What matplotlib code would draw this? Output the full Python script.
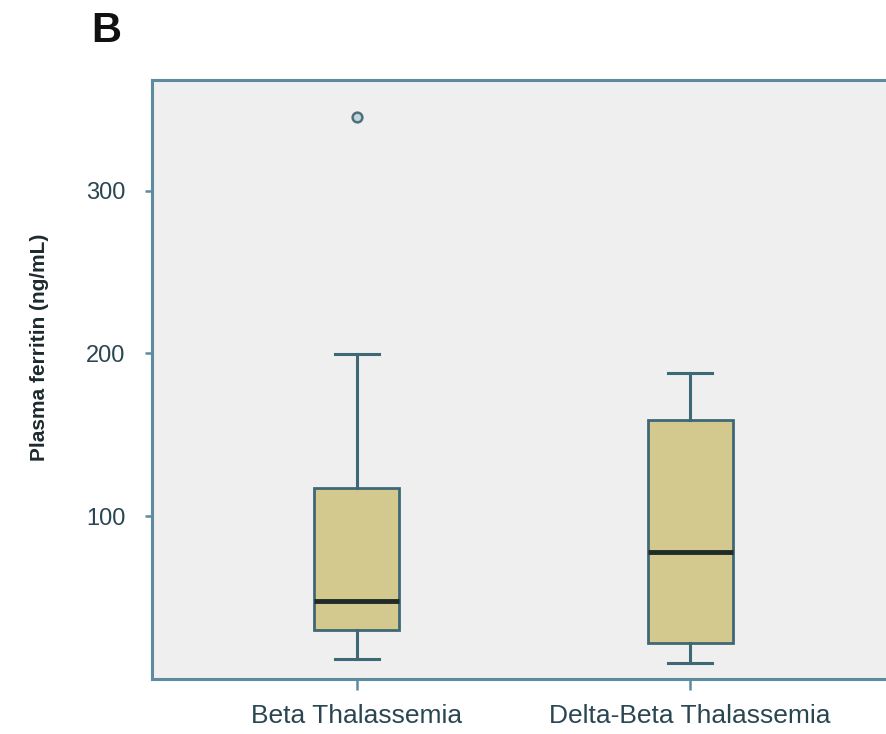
import matplotlib
matplotlib.use("Agg")
import matplotlib.pyplot as plt

# Boxplot summary values (ng/mL)
groups = ["Beta Thalassemia", "Delta-Beta Thalassemia"]
whislo = [12.6, 9.7]
q1 = [30.0, 22.0]
med = [48.0, 78.0]
q3 = [117.5, 159.0]
whishi = [199.5, 188.0]
outliers = [[345.0], []]
yticks = [100, 200, 300]

plt.rcParams['font.family'] = ['Liberation Sans', 'DejaVu Sans']

spine_col = "#5d8ca0"
edge_col = "#3f6877"
text_col = "#2a4652"

fig = plt.figure(figsize=(8.87, 7.34), dpi=100)
ax = fig.add_axes([0.1714, 0.0749, 1.009 - 0.1714, 0.891 - 0.0749])
ax.set_facecolor("#eeefee")

stats = []
for i, g in enumerate(groups):
    stats.append(dict(label=g, whislo=whislo[i], q1=q1[i], med=med[i],
                      q3=q3[i], whishi=whishi[i], fliers=outliers[i]))

ax.bxp(stats, positions=[1, 2], widths=0.255, patch_artist=True,
       showfliers=True,
       boxprops=dict(facecolor="#d3c98e", edgecolor=edge_col, linewidth=2.0),
       whiskerprops=dict(color=edge_col, linewidth=2.2),
       capprops=dict(color=edge_col, linewidth=2.2),
       capwidths=0.13,
       medianprops=dict(color="#1f2b27", linewidth=3.5),
       flierprops=dict(marker="o", markersize=7, markerfacecolor="#c9d4d8",
                       markeredgecolor="#4a7282", markeredgewidth=1.8))

ax.set_xlim(0.385, 2.615)
ax.set_ylim(0, 368)
ax.set_yticks(yticks)
ax.set_yticklabels([str(t) for t in yticks], fontsize=17, color=text_col)
ax.set_xticks([1, 2])
ax.set_xticklabels(groups, fontsize=19, color=text_col)

for s in ax.spines.values():
    s.set_color(spine_col)
    s.set_linewidth(2.2)

ax.tick_params(axis="y", direction="out", length=5, width=1.8, color=spine_col, pad=14)
ax.tick_params(axis="x", direction="out", length=8, width=1.8, color=spine_col, pad=10)

# y label sits a bit above the axes centre in the original
fig.text(40 / 887, 1 - 347 / 734, "Plasma ferritin (ng/mL)", rotation=90,
         fontsize=15, fontweight="bold", color="#1e2a2e",
         ha="center", va="center")

fig.text(106 / 887, 1 - 31 / 734, "B", fontsize=30, fontweight="bold",
         ha="center", va="center", color="#111111")

fig.savefig("out.png", dpi=100)
